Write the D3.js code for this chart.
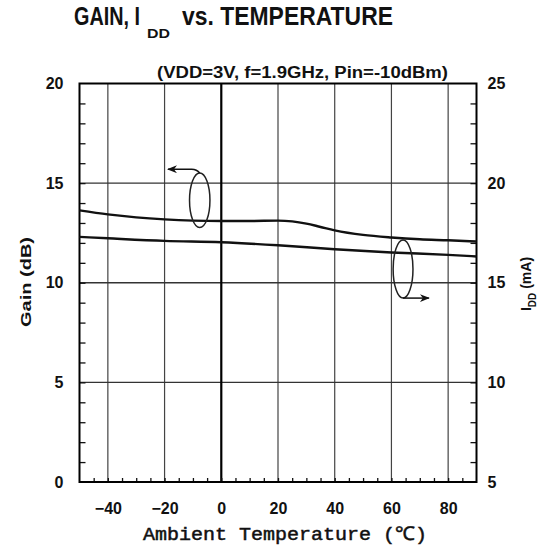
<!DOCTYPE html>
<html>
<head>
<meta charset="utf-8">
<script src="https://cdn.jsdelivr.net/npm/d3@7"></script>
<style>
  html, body { margin: 0; padding: 0; background: #fff; }
  svg { display: block; font-family: "Liberation Sans", Arial, sans-serif; }
  text { fill: #111; }
</style>
</head>
<body>
<script>
// ---- data ----
const gainTemps = [-50, -40, -30, -20, -10, 0, 10, 20, 25, 30, 35, 40, 50, 60, 70, 80, 90];
const gainValues = [13.63, 13.43, 13.28, 13.18, 13.12, 13.1, 13.1, 13.12, 13.08, 12.97, 12.8, 12.63, 12.4, 12.27, 12.18, 12.13, 12.07];
const iddTemps = [-50, -40, -20, 0, 20, 40, 60, 80, 90];
const iddValues = [17.3, 17.23, 17.1, 17.03, 16.88, 16.68, 16.52, 16.4, 16.32];
const xTicks = [-40, -20, 0, 20, 40, 60, 80];
const gainTicks = [0, 5, 10, 15, 20];
const iddTicks = [5, 10, 15, 20, 25];
// annotation ellipses (data units)
const gainMarker = { cx: -7.6, cy: 14.14, rx: 3.6, ry: 1.37, tipX: -18.8, tipY: 15.7 };
const iddMarker = { cx: 64.1, cy: 15.69, rx: 3.5, ry: 1.46, tipX: 73.2, tipY: 14.23 };

const W = 555, H = 550;
const svg = d3.select("body").append("svg").attr("width", W).attr("height", H);
svg.append("rect").attr("width", W).attr("height", H).attr("fill", "#fff");

const pLeft = 79.5, pRight = 476.5, pTop = 83.5, pBottom = 482;
const x = d3.scaleLinear().domain([-50, 90]).range([pLeft, pRight]);
const yG = d3.scaleLinear().domain([0, 20]).range([pBottom, pTop]);
const yI = d3.scaleLinear().domain([5, 25]).range([pBottom, pTop]);

// grid
const grid = svg.append("g");
grid.selectAll("line.v").data(xTicks.filter(d => d !== 0)).join("line")
  .attr("x1", d => x(d)).attr("x2", d => x(d)).attr("y1", pTop).attr("y2", pBottom)
  .attr("stroke", "#444").attr("stroke-width", 1.2);
grid.selectAll("line.h").data([5, 10, 15]).join("line")
  .attr("y1", d => yG(d)).attr("y2", d => yG(d)).attr("x1", pLeft).attr("x2", pRight)
  .attr("stroke", "#333").attr("stroke-width", 1.4);
grid.append("line").attr("x1", x(0)).attr("x2", x(0)).attr("y1", pTop).attr("y2", pBottom)
  .attr("stroke", "#000").attr("stroke-width", 2.2);

// minor ticks (inward)
const minorStyle = g => { g.select(".domain").remove(); g.selectAll("text").remove();
  g.selectAll("line").attr("stroke", "#111").attr("stroke-width", 1.3); };
svg.append("g").attr("transform", `translate(${pLeft},0)`)
  .call(d3.axisLeft(yG).tickValues(d3.range(1, 20)).tickSize(-6)).call(minorStyle);
svg.append("g").attr("transform", `translate(${pRight},0)`)
  .call(d3.axisRight(yI).tickValues(d3.range(6, 25)).tickSize(-6)).call(minorStyle);
svg.append("g").attr("transform", `translate(0,${pBottom})`)
  .call(d3.axisBottom(x).tickValues(d3.range(-45, 90, 5)).tickSize(-4)).call(minorStyle);

// tick labels
const labStyle = g => { g.select(".domain").remove(); g.selectAll("line").remove();
  g.attr("font-family", null);
  g.selectAll("text").attr("font-size", 16).attr("font-weight", "bold").attr("fill", "#111"); };
svg.append("g").attr("transform", `translate(${pLeft},0)`)
  .call(d3.axisLeft(yG).tickValues(gainTicks).tickSize(0).tickPadding(16)).call(labStyle);
svg.append("g").attr("transform", `translate(${pRight},0)`)
  .call(d3.axisRight(yI).tickValues(iddTicks).tickSize(0).tickPadding(11)).call(labStyle);
svg.append("g").attr("transform", `translate(0,${pBottom})`)
  .call(d3.axisBottom(x).tickValues(xTicks).tickSize(0).tickPadding(21)).call(labStyle);

// border
svg.append("rect").attr("x", pLeft).attr("y", pTop).attr("width", pRight - pLeft).attr("height", pBottom - pTop)
  .attr("fill", "none").attr("stroke", "#000").attr("stroke-width", 2);

// curves
const gainLine = d3.line().x((d, i) => x(gainTemps[i])).y(d => yG(d)).curve(d3.curveMonotoneX);
const iddLine = d3.line().x((d, i) => x(iddTemps[i])).y(d => yI(d)).curve(d3.curveMonotoneX);
svg.append("path").attr("d", gainLine(gainValues)).attr("fill", "none").attr("stroke", "#111").attr("stroke-width", 2.4);
svg.append("path").attr("d", iddLine(iddValues)).attr("fill", "none").attr("stroke", "#111").attr("stroke-width", 2.4);

// annotation ellipses & arrows
const defs = svg.append("defs");
defs.append("marker").attr("id", "ah").attr("viewBox", "0 0 10 8").attr("refX", 9).attr("refY", 4)
  .attr("markerWidth", 10).attr("markerHeight", 8).attr("markerUnits", "userSpaceOnUse").attr("orient", "auto")
  .append("path").attr("d", "M0,0 L10,4 L0,8 L3,4 Z").attr("fill", "#111");

function annot(m, ys, up) {
  const cx = x(m.cx), cy = ys(m.cy);
  const rx = x(m.cx + m.rx) - cx, ry = ys(m.cy) - ys(m.cy + m.ry);
  svg.append("ellipse").attr("cx", cx).attr("cy", cy).attr("rx", rx).attr("ry", ry)
    .attr("fill", "none").attr("stroke", "#222").attr("stroke-width", 1.5);
  const sy = up ? cy - ry : cy + ry;
  const tx = x(m.tipX), ty = ys(m.tipY);
  const p = d3.path();
  p.moveTo(cx, sy);
  p.quadraticCurveTo(cx + (tx > cx ? 3 : -3), ty, cx + (tx > cx ? 8 : -8), ty);
  p.lineTo(tx, ty);
  svg.append("path").attr("d", p.toString()).attr("fill", "none").attr("stroke", "#111")
    .attr("stroke-width", 1.5).attr("marker-end", "url(#ah)");
}
annot(gainMarker, yG, true);
annot(iddMarker, yI, false);

// titles
const title = svg.append("g").attr("font-weight", "bold");
title.append("text").attr("transform", "translate(74,25) scale(1,1.25)").attr("font-size", 20)
  .attr("textLength", 66).attr("lengthAdjust", "spacingAndGlyphs").text("GAIN, I");
title.append("text").attr("x", 147).attr("y", 38).attr("font-size", 12)
  .attr("textLength", 23).attr("lengthAdjust", "spacingAndGlyphs").text("DD");
title.append("text").attr("transform", "translate(182,25) scale(1,1.25)").attr("font-size", 20)
  .attr("textLength", 211).attr("lengthAdjust", "spacingAndGlyphs").text("vs. TEMPERATURE");
title.append("text").attr("x", 157).attr("y", 78).attr("font-size", 16)
  .attr("textLength", 291).attr("lengthAdjust", "spacingAndGlyphs").text("(VDD=3V, f=1.9GHz, Pin=-10dBm)");

// axis titles
svg.append("text").attr("transform", "translate(31,282) rotate(-90)").attr("text-anchor", "middle")
  .attr("font-size", 14).attr("font-weight", "bold").attr("textLength", 90)
  .attr("lengthAdjust", "spacingAndGlyphs").text("Gain (dB)");

const rt = svg.append("text").attr("transform", "translate(531,284) rotate(-90)").attr("text-anchor", "middle")
  .attr("font-size", 14).attr("font-weight", "bold");
rt.append("tspan").text("I");
rt.append("tspan").attr("font-size", 10).attr("dy", 5).text("DD");
rt.append("tspan").attr("dy", -5).text(" (mA)");

svg.append("text").attr("x", 285).attr("y", 540).attr("text-anchor", "middle")
  .style("font-family", "'Liberation Mono', 'DejaVu Sans Mono', monospace").attr("font-size", 19)
  .attr("font-weight", "normal").attr("stroke", "#111").attr("stroke-width", 0.5)
  .attr("textLength", 284).attr("lengthAdjust", "spacingAndGlyphs")
  .text("Ambient Temperature (\u2103)");
</script>
</body>
</html>
